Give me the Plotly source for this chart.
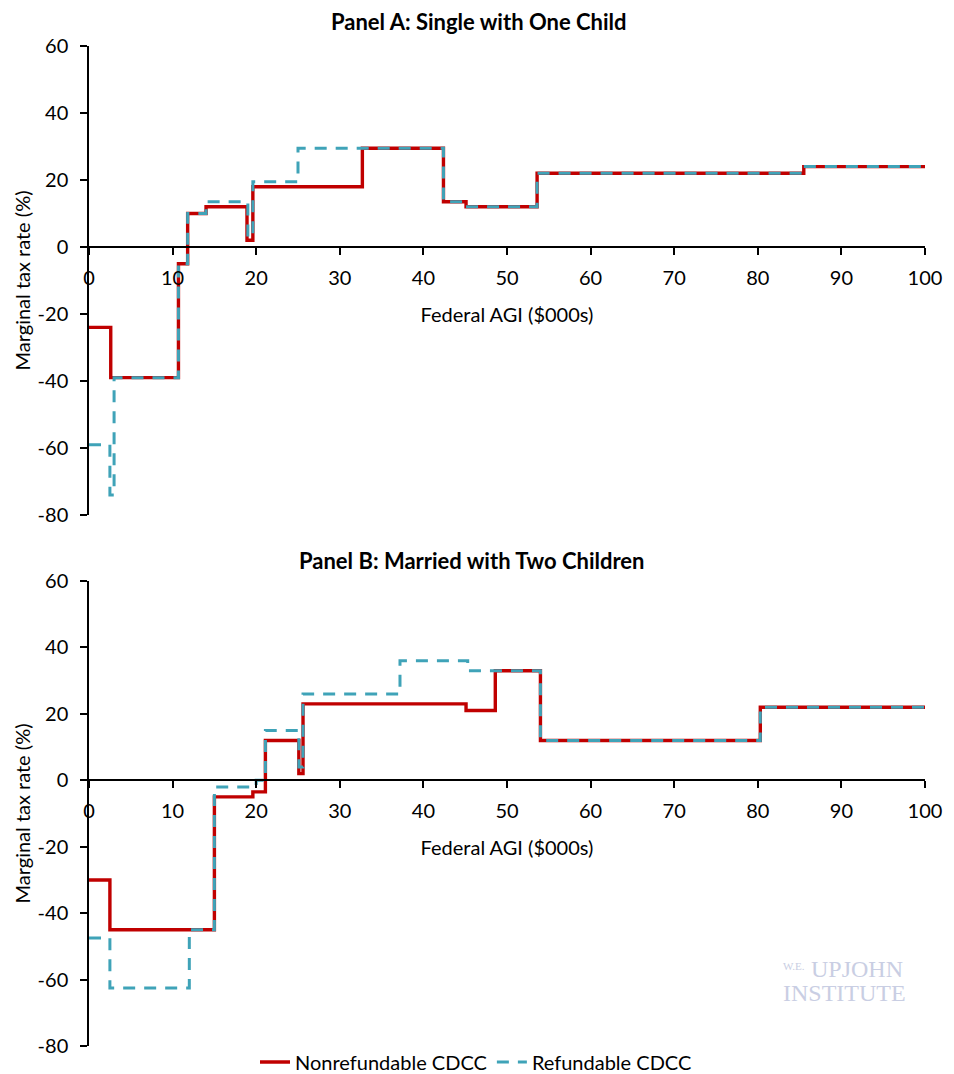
import plotly.graph_objects as go

# ---- data ----
a_red_x = [0, 2.6, 10.7, 11.8, 14.0, 18.9, 19.6, 32.7, 42.4, 45.1, 53.6, 85.5, 100]
a_red_y = [-24, -39, -5, 10, 12, 2, 18, 29.5, 13.5, 12, 22, 24, 24]
a_blue_x = [0, 2.5, 3.0, 10.7, 11.8, 14.0, 19.0, 19.6, 25.0, 42.4, 45.1, 53.6, 85.5, 100]
a_blue_y = [-59, -74, -39, -5, 10, 13.5, 3, 19.5, 29.5, 13.5, 12, 22, 24, 24]

b_red_x = [0, 2.5, 15.0, 19.6, 21.1, 25.1, 25.6, 45.1, 48.6, 54.0, 80.3, 100]
b_red_y = [-30, -45, -5, -3.5, 12, 2, 23, 21, 33, 12, 22, 22]
b_blue_x = [0, 2.5, 12.0, 15.0, 20.0, 21.1, 25.1, 25.6, 37.2, 45.3, 54.0, 80.3, 100]
b_blue_y = [-47.5, -62.5, -45, -2, 0, 15, 4, 26, 36, 33, 12, 22, 22]

x_ticks = [0, 10, 20, 30, 40, 50, 60, 70, 80, 90, 100]
y_ticks = [-80, -60, -40, -20, 0, 20, 40, 60]
y_tick_labels = ["-80", "-60", "-40", "-20", "0", "20", "40", "60"]

RED = "#C00000"
BLUE = "#3FA3B8"
FONT = "Lato"
TXT = 20

# page has an 8px body margin; geometry below is in figure pixels
OFF = 8
W, H = 954 - OFF, 1074 - OFF
L, R, T, B = 89 - OFF, 925 - OFF, 46 - OFF, 1046 - OFF

def px(xp):
    return (xp - OFF - L) / (R - L)

def py(yp):
    return (B - (yp - OFF)) / (B - T)

fig = go.Figure()
for xs, ys, xa, ya, show in [(a_red_x, a_red_y, "x", "y", True), (b_red_x, b_red_y, "x2", "y2", False)]:
    fig.add_trace(go.Scatter(x=xs, y=ys, xaxis=xa, yaxis=ya, mode="lines", line_shape="hv",
                             line=dict(color=RED, width=3.4), name="Nonrefundable CDCC",
                             legendgroup="r", showlegend=show))
for xs, ys, xa, ya, show in [(a_blue_x, a_blue_y, "x", "y", True), (b_blue_x, b_blue_y, "x2", "y2", False)]:
    fig.add_trace(go.Scatter(x=xs, y=ys, xaxis=xa, yaxis=ya, mode="lines", line_shape="hv",
                             line=dict(color=BLUE, width=3, dash="12px,9px"), name="Refundable CDCC",
                             legendgroup="b", showlegend=show))

domA = [py(515), 1.0]
domB = [0.0, py(581)]
zeroA = domA[0] + 80 / 140 * (domA[1] - domA[0])
zeroB = domB[0] + 80 / 140 * (domB[1] - domB[0])

def xax(pos):
    return dict(range=[0, 100], tickvals=x_ticks, ticks="outside", ticklen=7, tickwidth=1.5,
                tickcolor="black", showline=True, linecolor="black", linewidth=1.5,
                showgrid=False, zeroline=False, anchor="free", position=pos,
                ticklabelstandoff=6,
                tickfont=dict(family=FONT, size=TXT, color="black"),
                title=dict(text="Federal AGI ($000s)", font=dict(family=FONT, size=TXT, color="black"), standoff=19),
                domain=[0, 1], fixedrange=True)

def yax(dom, anchor_x):
    return dict(range=[-80, 60], tickvals=y_ticks, ticktext=y_tick_labels, ticks="outside",
                ticklen=7, tickwidth=1.5,
                tickcolor="black", showline=True, linecolor="black", linewidth=1.5,
                showgrid=False, zeroline=False, domain=dom, anchor=anchor_x,
                ticklabelstandoff=8,
                tickfont=dict(family=FONT, size=TXT, color="black"),
                title=dict(text="Marginal tax rate (%)", font=dict(family=FONT, size=TXT, color="black"), standoff=2),
                fixedrange=True)

wm_font = dict(family="Liberation Serif", color="#C9CEE3")
fig.update_layout(
    width=W, height=H,
    margin=dict(l=L, r=W - R, t=T, b=H - B, autoexpand=False),
    paper_bgcolor="white", plot_bgcolor="rgba(0,0,0,0)",
    font=dict(family=FONT, size=TXT, color="black"),
    xaxis=xax(zeroA), xaxis2=xax(zeroB),
    yaxis=yax(domA, "x"), yaxis2=yax(domB, "x2"),
    showlegend=True,
    legend=dict(orientation="h", x=(476 - OFF) / W, xanchor="center", xref="container",
                y=(1074 - 1062) / H, yanchor="middle", yref="container",
                font=dict(family=FONT, size=TXT, color="black"),
                bgcolor="rgba(0,0,0,0)"),
    annotations=[
        dict(text="<b>Panel A: Single with One Child</b>", x=px(478), y=py(22),
             xref="paper", yref="paper", xanchor="center", yanchor="middle", showarrow=False,
             font=dict(family=FONT, size=22, color="black")),
        dict(text="<b>Panel B: Married with Two Children</b>", x=px(472), y=py(560),
             xref="paper", yref="paper", xanchor="center", yanchor="middle", showarrow=False,
             font=dict(family=FONT, size=22, color="black")),
        dict(text="W.E.", x=px(794), y=py(966), xref="paper", yref="paper",
             xanchor="center", yanchor="middle", showarrow=False, font=dict(size=11, **wm_font)),
        dict(text="UPJOHN", x=px(857), y=py(969), xref="paper", yref="paper",
             xanchor="center", yanchor="middle", showarrow=False, font=dict(size=24, **wm_font)),
        dict(text="INSTITUTE", x=px(844), y=py(993), xref="paper", yref="paper",
             xanchor="center", yanchor="middle", showarrow=False, font=dict(size=24, **wm_font)),
    ],
)

fig.write_html("out.html")
